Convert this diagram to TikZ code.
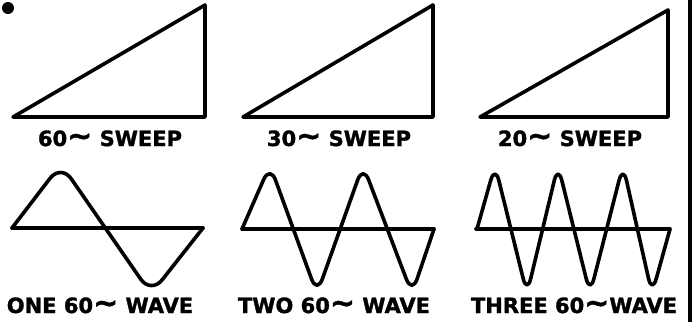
\documentclass[tikz,border=0pt]{standalone}
\usepackage{fontspec}
\newfontfamily\labfont{DejaVu Sans}[BoldFeatures={FakeBold=1.5}]
\newcommand{\bigtil}{{\fontsize{30}{30}\selectfont∼}}
\begin{document}
\begin{tikzpicture}[x=1pt,y=-1pt,
  ink/.style={line width=3.6pt,line join=round,line cap=round},
  wavei/.style={ink,rounded corners=18pt},
  waveii/.style={ink,rounded corners=16pt},
  lab/.style={font=\labfont\bfseries\fontsize{21}{23}\selectfont,inner sep=0pt,anchor=base}]
\useasboundingbox (0,0) rectangle (695,322);
% dot
\fill (8,8) circle (6pt);
% border line
\draw[line width=3.6pt] (690,0) -- (690,322);
% sweeps
\draw[ink] (13,117) -- (205,5) -- (205,117) -- cycle;
\draw[ink] (243,117) -- (433,5) -- (433,117) -- cycle;
\draw[ink] (480,117) -- (668,10) -- (668,117) -- cycle;
\node[lab] (l1) at (110,146) {60\bigtil{} SWEEP};
\node[lab] (l2) at (339,146) {30\bigtil{} SWEEP};
\node[lab] (l3) at (570,146) {20\bigtil{} SWEEP};
% waves
\draw[ink] (12,228) -- (203,228);
\draw[wavei] (12,228) -- (61,164) -- (151,294) -- (203,228);
\draw[ink] (242,229) -- (434,229);
\draw[waveii] (242,229) -- (270,165) -- (317,294) -- (363,165) -- (412,294) -- (434,229);
\draw[ink] (476,229) -- (670,229);
\draw[waveii] (477,229) -- (495,165) -- (527,294) -- (558,165) -- (590,294) -- (623,165) -- (652,294) -- (670,229);
\node[lab] (w1) at (100,313) {ONE 60\bigtil{} WAVE};
\node[lab] (w2) at (334,313) {TWO 60\bigtil{} WAVE};
\node[lab] (w3) at (574,313) {THREE 60\bigtil{}WAVE};
\end{tikzpicture}
\end{document}
